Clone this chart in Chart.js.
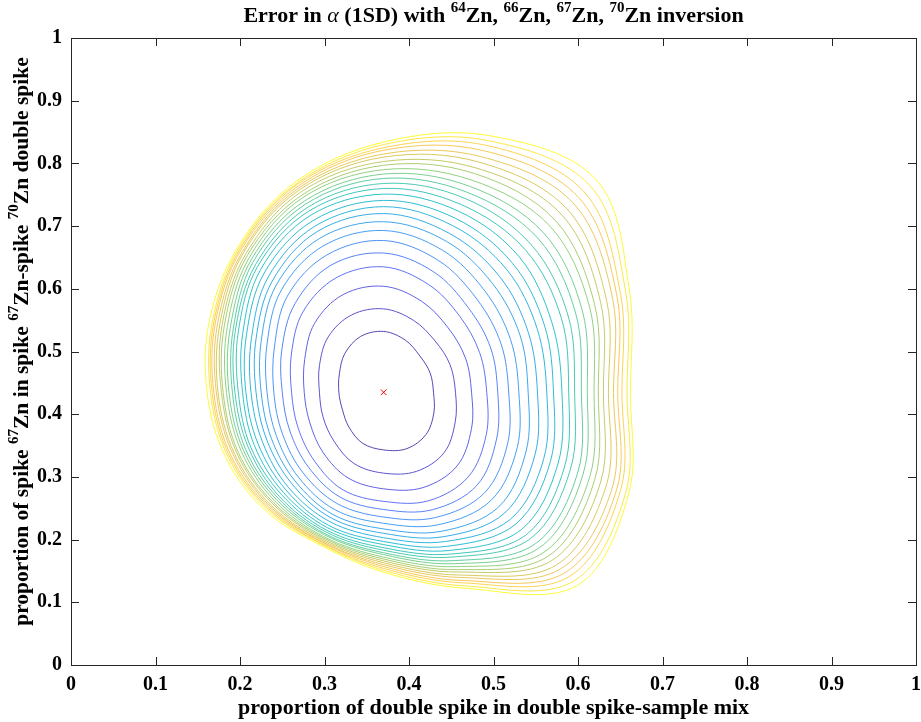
<!DOCTYPE html>
<html>
<head>
<meta charset="utf-8">
<script src="https://cdn.jsdelivr.net/npm/chart.js@4.4.1/dist/chart.umd.min.js"></script>
<style>
  html, body { margin: 0; padding: 0; background: #fff; }
</style>
</head>
<body>
<canvas id="chart" width="921" height="722"></canvas>
<script>
// ========================================
// Data
// ========================================
// minimum of the error surface (red cross)
const optimumX = [0.37];
const optimumY = [0.435];

// each contour is sampled along 16 rays leaving the optimum;
// rayAngles are directions in axis units (degrees), ray values are the
// distance from the optimum along the ray, innermost contour first
const rayAngles = [0, 29.14, 53.39, 72.90, 90, 107.10, 126.61, 150.86,
                   180, 209.14, 233.39, 252.90, 270, 287.10, 306.61, 330.86];

const ray00 = [0.059, 0.085, 0.104, 0.122, 0.135, 0.148, 0.160, 0.171, 0.182, 0.193, 0.201, 0.211, 0.219, 0.226, 0.234, 0.241, 0.249, 0.254, 0.260, 0.266, 0.272, 0.277, 0.282, 0.288, 0.292];
const ray01 = [0.063, 0.090, 0.111, 0.130, 0.145, 0.159, 0.172, 0.185, 0.196, 0.208, 0.218, 0.228, 0.241, 0.250, 0.260, 0.269, 0.279, 0.286, 0.294, 0.302, 0.310, 0.316, 0.321, 0.328, 0.333];
const ray02 = [0.072, 0.102, 0.128, 0.151, 0.168, 0.185, 0.201, 0.216, 0.230, 0.244, 0.256, 0.269, 0.282, 0.293, 0.306, 0.317, 0.330, 0.341, 0.353, 0.364, 0.376, 0.387, 0.398, 0.410, 0.422];
const ray03 = [0.087, 0.120, 0.152, 0.180, 0.201, 0.220, 0.237, 0.252, 0.265, 0.278, 0.290, 0.302, 0.313, 0.324, 0.334, 0.344, 0.354, 0.365, 0.374, 0.384, 0.393, 0.403, 0.412, 0.420, 0.428];
const ray04 = [0.097, 0.133, 0.169, 0.200, 0.222, 0.242, 0.258, 0.272, 0.285, 0.296, 0.306, 0.316, 0.325, 0.333, 0.341, 0.348, 0.355, 0.362, 0.368, 0.375, 0.380, 0.386, 0.390, 0.395, 0.399];
const ray05 = [0.093, 0.129, 0.163, 0.191, 0.212, 0.229, 0.244, 0.257, 0.268, 0.277, 0.286, 0.295, 0.302, 0.308, 0.314, 0.319, 0.325, 0.329, 0.334, 0.338, 0.341, 0.344, 0.347, 0.349, 0.352];
const ray06 = [0.077, 0.110, 0.137, 0.160, 0.176, 0.191, 0.203, 0.213, 0.221, 0.229, 0.237, 0.244, 0.250, 0.254, 0.259, 0.263, 0.267, 0.271, 0.274, 0.278, 0.280, 0.283, 0.285, 0.287, 0.289];
const ray07 = [0.060, 0.087, 0.107, 0.125, 0.138, 0.148, 0.158, 0.166, 0.173, 0.179, 0.186, 0.191, 0.197, 0.201, 0.204, 0.208, 0.212, 0.216, 0.219, 0.222, 0.225, 0.228, 0.230, 0.232, 0.236];
const ray08 = [0.053, 0.076, 0.094, 0.109, 0.120, 0.130, 0.138, 0.145, 0.151, 0.157, 0.163, 0.167, 0.172, 0.176, 0.179, 0.183, 0.186, 0.190, 0.192, 0.196, 0.198, 0.201, 0.203, 0.205, 0.209];
const ray09 = [0.056, 0.082, 0.100, 0.116, 0.127, 0.137, 0.145, 0.152, 0.158, 0.164, 0.170, 0.175, 0.180, 0.183, 0.187, 0.190, 0.193, 0.197, 0.199, 0.202, 0.204, 0.207, 0.209, 0.211, 0.214];
const ray10 = [0.069, 0.098, 0.120, 0.137, 0.149, 0.160, 0.169, 0.176, 0.182, 0.189, 0.194, 0.199, 0.203, 0.207, 0.210, 0.213, 0.216, 0.219, 0.221, 0.224, 0.226, 0.228, 0.230, 0.232, 0.235];
const ray11 = [0.085, 0.119, 0.143, 0.163, 0.175, 0.186, 0.196, 0.204, 0.210, 0.216, 0.222, 0.226, 0.230, 0.233, 0.236, 0.238, 0.241, 0.243, 0.245, 0.247, 0.249, 0.250, 0.252, 0.253, 0.255];
const ray12 = [0.092, 0.129, 0.154, 0.174, 0.187, 0.199, 0.209, 0.218, 0.225, 0.232, 0.238, 0.243, 0.248, 0.252, 0.256, 0.259, 0.263, 0.266, 0.269, 0.272, 0.275, 0.278, 0.281, 0.284, 0.287];
const ray13 = [0.094, 0.132, 0.159, 0.181, 0.196, 0.209, 0.221, 0.232, 0.241, 0.249, 0.257, 0.264, 0.270, 0.275, 0.281, 0.286, 0.291, 0.296, 0.300, 0.305, 0.309, 0.314, 0.318, 0.323, 0.327];
const ray14 = [0.084, 0.120, 0.146, 0.168, 0.185, 0.200, 0.214, 0.228, 0.240, 0.252, 0.262, 0.273, 0.283, 0.291, 0.301, 0.309, 0.318, 0.326, 0.334, 0.343, 0.351, 0.359, 0.367, 0.376, 0.384];
const ray15 = [0.068, 0.097, 0.119, 0.139, 0.153, 0.168, 0.181, 0.193, 0.205, 0.217, 0.226, 0.236, 0.245, 0.253, 0.263, 0.270, 0.279, 0.286, 0.294, 0.302, 0.310, 0.316, 0.321, 0.328, 0.332];
const rays = [ray00, ray01, ray02, ray03, ray04, ray05, ray06, ray07,
              ray08, ray09, ray10, ray11, ray12, ray13, ray14, ray15];

const tickValues = [0, 0.1, 0.2, 0.3, 0.4, 0.5, 0.6, 0.7, 0.8, 0.9, 1];

// ========================================
// Styling helpers
// ========================================
const FONT = '"Liberation Serif", "Times New Roman", serif';

// parula colour stops
const parula = [
    [62, 38, 168], [72, 82, 244], [46, 135, 247], [18, 160, 227], [7, 183, 198],
    [50, 195, 157], [126, 202, 103], [204, 191, 67], [253, 190, 60], [249, 251, 20]
];
function parulaColor(t) {
    const p = t * (parula.length - 1);
    const i = Math.min(Math.floor(p), parula.length - 2);
    const f = p - i;
    const c = parula[i].map((v, k) => Math.round(v + (parula[i + 1][k] - v) * f));
    return `rgba(${c[0]},${c[1]},${c[2]},0.85)`;
}

// ========================================
// Build datasets
// ========================================
const nLevels = ray00.length;
const datasets = [];
for (let i = 0; i < nLevels; i++) {
    const pts = rays.map((ray, k) => {
        const a = rayAngles[k] * Math.PI / 180;
        return { x: optimumX[0] + ray[i] * Math.cos(a), y: optimumY[0] + ray[i] * Math.sin(a) };
    });
    datasets.push({
        data: pts,
        showLine: true,
        closed: true,
        borderColor: parulaColor(i / (nLevels - 1)),
        borderWidth: 1,
        pointRadius: 0,
        tension: 0.35,
        fill: false
    });
}
datasets.push({
    data: optimumX.map((x, i) => ({ x: x, y: optimumY[i] })),
    showLine: false,
    pointStyle: 'crossRot',
    pointRadius: 4,
    borderColor: '#ff0000',
    borderWidth: 1
});

// ========================================
// Plugins
// ========================================
// close each contour into a smooth loop
const loopPlugin = {
    id: 'loopLines',
    afterDatasetUpdate(chart, args) {
        const ds = chart.data.datasets[args.index];
        if (ds.closed) {
            args.meta.dataset._loop = true;
            args.meta.dataset._fullLoop = true;
        }
    }
};

// rich text with superscripts / italic pieces
function partFont(p, size) {
    const s = p.sup ? Math.round(size * 0.68) : size;
    return (p.it ? 'italic ' : 'bold ') + s + 'px ' + FONT;
}
function drawRich(ctx, parts, x, y, size) {
    let w = 0;
    parts.forEach(p => { ctx.font = partFont(p, size); w += ctx.measureText(p.t).width; });
    let cx = x - w / 2;
    parts.forEach(p => {
        ctx.font = partFont(p, size);
        ctx.fillText(p.t, cx, p.sup ? y - size * 0.36 : y);
        cx += ctx.measureText(p.t).width;
    });
}

const titleParts = [
    { t: 'Error in ' }, { t: 'α', it: true }, { t: ' (1SD) with ' },
    { t: '64', sup: true }, { t: 'Zn, ' }, { t: '66', sup: true }, { t: 'Zn, ' },
    { t: '67', sup: true }, { t: 'Zn, ' }, { t: '70', sup: true }, { t: 'Zn inversion' }
];
const yTitleParts = [
    { t: 'proportion of spike ' }, { t: '67', sup: true }, { t: 'Zn in spike ' },
    { t: '67', sup: true }, { t: 'Zn-spike ' }, { t: '70', sup: true }, { t: 'Zn double spike' }
];

const framePlugin = {
    id: 'frame',
    afterDraw(chart) {
        const { ctx, chartArea: a, scales } = chart;
        ctx.save();
        ctx.strokeStyle = '#262626';
        ctx.lineWidth = 1;
        ctx.strokeRect(Math.round(a.left) + 0.5, Math.round(a.top) + 0.5,
            Math.round(a.right - a.left), Math.round(a.bottom - a.top));
        ctx.beginPath();
        tickValues.forEach(v => {
            const px = Math.round(scales.x.getPixelForValue(v)) + 0.5;
            ctx.moveTo(px, a.bottom); ctx.lineTo(px, a.bottom - 8);
            ctx.moveTo(px, a.top); ctx.lineTo(px, a.top + 8);
            const py = Math.round(scales.y.getPixelForValue(v)) + 0.5;
            ctx.moveTo(a.left, py); ctx.lineTo(a.left + 8, py);
            ctx.moveTo(a.right, py); ctx.lineTo(a.right - 8, py);
        });
        ctx.stroke();

        ctx.fillStyle = '#000';
        ctx.textBaseline = 'middle';
        drawRich(ctx, titleParts, (a.left + a.right) / 2, 16, 22);
        ctx.translate(22, (a.top + a.bottom) / 2 - 10);
        ctx.rotate(-Math.PI / 2);
        drawRich(ctx, yTitleParts, 0, 0, 21.5);
        ctx.restore();
    }
};

// ========================================
// Chart
// ========================================
new Chart(document.getElementById('chart'), {
    type: 'scatter',
    data: { datasets: datasets },
    options: {
        responsive: false,
        animation: false,
        devicePixelRatio: 1,
        layout: { padding: { top: 38, right: 5, left: 0, bottom: 0 } },
        plugins: { legend: { display: false }, tooltip: { enabled: false } },
        scales: {
            x: {
                type: 'linear', min: 0, max: 1,
                afterBuildTicks: s => { s.ticks = tickValues.map(v => ({ value: v })); },
                afterFit: s => { s.height = 57; s.paddingLeft = 0; s.paddingRight = 0; },
                grid: { display: false, drawTicks: false },
                border: { display: false },
                ticks: {
                    padding: 8, color: '#000', maxRotation: 0,
                    font: { family: FONT, size: 20, weight: 'bold' },
                    callback: v => String(+v.toFixed(1))
                },
                title: {
                    display: true, text: 'proportion of double spike in double spike-sample mix',
                    color: '#000', padding: { top: 0, bottom: 0 },
                    font: { family: FONT, size: 22, weight: 'bold' }
                }
            },
            y: {
                type: 'linear', min: 0, max: 1,
                afterBuildTicks: s => { s.ticks = tickValues.map(v => ({ value: v })); },
                afterFit: s => { s.width = 71; s.paddingTop = 0; s.paddingBottom = 0; },
                grid: { display: false, drawTicks: false },
                border: { display: false },
                ticks: {
                    padding: 9, color: '#000',
                    font: { family: FONT, size: 20, weight: 'bold' },
                    callback: v => String(+v.toFixed(1))
                }
            }
        }
    },
    plugins: [loopPlugin, framePlugin]
});
</script>
</body>
</html>
